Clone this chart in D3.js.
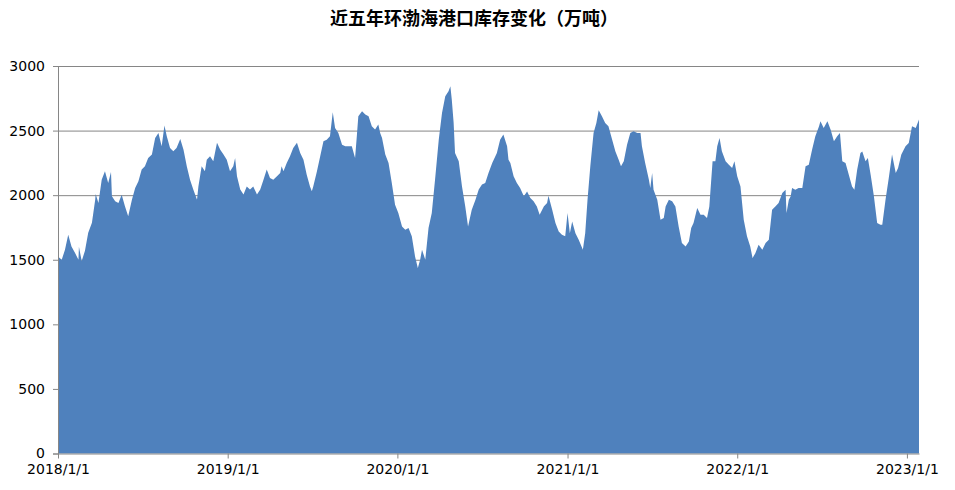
<!DOCTYPE html>
<html>
<head>
<meta charset="utf-8">
<script src="https://cdn.jsdelivr.net/npm/d3@7"></script>
<style>
  body { margin: 0; background: #fff; }
  text { font-family: "DejaVu Sans", sans-serif; }
</style>
</head>
<body>
<div id="chart"></div>
<script>
// title + data
const title = "近五年环渤海港口库存变化（万吨）";

const dates = [
  "2018-01-01","2018-01-09","2018-01-16","2018-01-23","2018-01-30","2018-02-07","2018-02-14","2018-02-15","2018-02-21","2018-02-28",
  "2018-03-07","2018-03-15","2018-03-22","2018-03-23","2018-03-29","2018-04-05","2018-04-12","2018-04-19","2018-04-25","2018-04-27",
  "2018-05-04","2018-05-11","2018-05-18","2018-05-25","2018-06-01","2018-06-09","2018-06-16","2018-06-23","2018-06-30","2018-07-07",
  "2018-07-14","2018-07-22","2018-07-29","2018-08-05","2018-08-12","2018-08-18","2018-08-23","2018-08-30","2018-09-06","2018-09-13",
  "2018-09-21","2018-09-28","2018-10-05","2018-10-12","2018-10-19","2018-10-27","2018-10-30","2018-11-06","2018-11-13","2018-11-17",
  "2018-11-24","2018-12-01","2018-12-09","2018-12-16","2018-12-23","2018-12-30",
  "2019-01-06","2019-01-13","2019-01-17","2019-01-21","2019-01-28","2019-02-04","2019-02-11","2019-02-18","2019-02-25","2019-03-05",
  "2019-03-12","2019-03-19","2019-03-26","2019-04-02","2019-04-09","2019-04-17","2019-04-24","2019-04-27","2019-05-01","2019-05-08",
  "2019-05-15","2019-05-22","2019-05-30","2019-06-06","2019-06-13","2019-06-20","2019-06-27","2019-07-01","2019-07-04","2019-07-12",
  "2019-07-19","2019-07-26","2019-08-02","2019-08-09","2019-08-15","2019-08-20","2019-08-27","2019-09-04","2019-09-11","2019-09-18",
  "2019-09-25","2019-10-02","2019-10-06","2019-10-09","2019-10-17","2019-10-24","2019-10-31","2019-11-07","2019-11-14","2019-11-21",
  "2019-11-25","2019-11-29","2019-12-06","2019-12-13","2019-12-20","2019-12-27",
  "2020-01-03","2020-01-11","2020-01-18","2020-01-25","2020-02-01","2020-02-08","2020-02-14","2020-02-19","2020-02-23","2020-03-01",
  "2020-03-08","2020-03-15","2020-03-22","2020-03-30","2020-04-06","2020-04-13","2020-04-20","2020-04-24","2020-04-27","2020-05-01",
  "2020-05-04","2020-05-12","2020-05-19","2020-05-26","2020-06-01","2020-06-09","2020-06-17","2020-06-24","2020-07-01","2020-07-08",
  "2020-07-15","2020-07-23","2020-08-02","2020-08-09","2020-08-16","2020-08-24","2020-08-27","2020-08-31","2020-09-07","2020-09-14",
  "2020-09-21","2020-09-29","2020-10-06","2020-10-13","2020-10-20","2020-10-27","2020-11-02","2020-11-11","2020-11-18","2020-11-21",
  "2020-11-29","2020-12-06","2020-12-13","2020-12-20","2020-12-27",
  "2021-01-01","2021-01-06","2021-01-11","2021-01-18","2021-01-25","2021-02-03","2021-02-08","2021-02-13","2021-02-19","2021-02-26",
  "2021-03-04","2021-03-09","2021-03-16","2021-03-23","2021-03-30","2021-04-07","2021-04-14","2021-04-21","2021-04-26","2021-05-02",
  "2021-05-09","2021-05-16","2021-05-23","2021-05-31","2021-06-07","2021-06-10","2021-06-17","2021-06-25","2021-06-28","2021-07-02",
  "2021-07-05","2021-07-13","2021-07-20","2021-07-27","2021-07-31","2021-08-07","2021-08-14","2021-08-21","2021-08-28","2021-09-04",
  "2021-09-12","2021-09-19","2021-09-24","2021-09-29","2021-10-07","2021-10-14","2021-10-21","2021-10-28","2021-11-02","2021-11-09",
  "2021-11-15","2021-11-19","2021-11-24","2021-11-29","2021-12-07","2021-12-14","2021-12-21","2021-12-26",
  "2022-01-01","2022-01-08","2022-01-15","2022-01-22","2022-01-29","2022-02-03","2022-02-09","2022-02-16","2022-02-24","2022-03-03",
  "2022-03-10","2022-03-17","2022-03-24","2022-03-31","2022-04-08","2022-04-15","2022-04-17","2022-04-22","2022-04-26","2022-04-29",
  "2022-05-06","2022-05-13","2022-05-21","2022-05-28","2022-06-04","2022-06-11","2022-06-18","2022-06-26","2022-06-29","2022-07-06",
  "2022-07-14","2022-07-21","2022-07-28","2022-08-04","2022-08-10","2022-08-15","2022-08-22","2022-08-29","2022-09-05","2022-09-10",
  "2022-09-16","2022-09-23","2022-09-27","2022-10-04","2022-10-09","2022-10-15","2022-10-22","2022-10-29","2022-11-05","2022-11-09",
  "2022-11-16","2022-11-23","2022-11-30","2022-12-08","2022-12-13","2022-12-20","2022-12-29",
  "2023-01-05","2023-01-12","2023-01-20","2023-01-27"
];

const values = [
  1525,1500,1577,1694,1603,1550,1500,1600,1490,1570,
  1709,1787,1965,2010,1940,2120,2185,2095,2180,1991,
  1952,1940,2003,1914,1836,1965,2056,2107,2198,2223,
  2288,2314,2443,2482,2378,2540,2456,2365,2340,2365,
  2434,2352,2223,2120,2043,1965,2068,2223,2185,2275,
  2301,2262,2405,2352,2314,2275,
  2185,2223,2288,2146,2043,2005,2068,2043,2068,2005,
  2043,2120,2198,2133,2120,2146,2172,2223,2185,2249,
  2301,2366,2405,2327,2275,2159,2068,2030,2068,2185,
  2301,2417,2430,2456,2642,2520,2482,2391,2378,2378,
  2378,2288,2467,2611,2650,2624,2611,2534,2508,2547,
  2482,2443,2314,2249,2095,1926,
  1862,1758,1732,1745,1681,1526,1436,1500,1578,1500,
  1746,1862,2120,2430,2637,2766,2805,2844,2740,2560,
  2327,2262,2068,1913,1758,1887,1965,2043,2082,2095,
  2172,2249,2327,2430,2469,2378,2275,2249,2146,2094,
  2055,1991,2029,1978,1952,1913,1849,1913,1939,1996,
  1887,1784,1719,1693,1681,
  1861,1706,1797,1706,1655,1577,1706,1965,2223,2482,
  2559,2657,2611,2559,2533,2430,2339,2275,2223,2262,
  2391,2482,2495,2482,2482,2378,2249,2120,2055,2172,
  2042,1965,1810,1823,1913,1965,1952,1913,1758,1629,
  1603,1642,1745,1784,1900,1849,1849,1823,1913,2262,
  2262,2378,2443,2340,2262,2236,2210,2262,
  2146,2068,1810,1681,1603,1513,1551,1616,1577,1629,
  1655,1887,1913,1939,2017,2042,1861,1965,1991,2055,
  2042,2055,2055,2223,2236,2352,2456,2533,2572,2520,
  2572,2507,2417,2456,2482,2262,2249,2158,2068,2042,
  2197,2327,2339,2262,2288,2158,1991,1784,1771,1771,
  1965,2133,2314,2172,2210,2314,2378,
  2404,2533,2520,2585
];

const yTicks = [0, 500, 1000, 1500, 2000, 2500, 3000];
const xTickDates = ["2018-01-01","2019-01-01","2020-01-01","2021-01-01","2022-01-01","2023-01-01"];
const xTickLabels = ["2018/1/1","2019/1/1","2020/1/1","2021/1/1","2022/1/1","2023/1/1"];

// layout
const W = 955, H = 490;
const margin = { top: 66, right: 36, bottom: 36.5, left: 58 };
const width = W - margin.left - margin.right;
const height = H - margin.top - margin.bottom;
const gridColor = "#868686";

const parse = d3.timeParse("%Y-%m-%d");
const data = dates.map((d, i) => ({ date: parse(d), value: values[i] }));

const svg = d3.select("#chart").append("svg")
    .attr("width", W)
    .attr("height", H);

svg.append("text")
    .attr("x", 474)
    .attr("y", 25)
    .attr("text-anchor", "middle")
    .style("font-family", "'Noto Sans CJK SC', sans-serif")
    .style("font-weight", "bold")
    .style("font-size", "18px")
    .attr("fill", "#000")
    .text(title);

const g = svg.append("g")
    .attr("transform", `translate(${margin.left},${margin.top})`);

// scales
const x = d3.scaleTime()
    .domain([parse("2018-01-01"), d3.max(data, d => d.date)])
    .range([0, width]);

const y = d3.scaleLinear()
    .domain([0, 3000])
    .range([height, 0]);

// gridlines
g.append("g")
    .attr("class", "grid")
    .call(d3.axisLeft(y).tickValues(yTicks.filter(v => v > 0)).tickSize(-width).tickFormat(""))
    .call(s => s.select(".domain").remove())
    .call(s => s.selectAll("line").attr("stroke", gridColor).attr("stroke-width", 1));

// area
const area = d3.area()
    .x(d => x(d.date))
    .y0(y(0))
    .y1(d => y(d.value));

g.append("path")
    .datum(data)
    .attr("d", area)
    .attr("fill", "#4f81bd");

// axes
const yAxis = g.append("g")
    .call(d3.axisLeft(y).tickValues(yTicks).tickFormat(d3.format("d"))
      .tickSize(5).tickPadding(8));

const xAxis = g.append("g")
    .attr("transform", `translate(0,${height})`)
    .call(d3.axisBottom(x)
      .tickValues(xTickDates.map(parse))
      .tickFormat((d, i) => xTickLabels[i])
      .tickSize(5).tickPadding(6)
      .tickSizeOuter(0));

[yAxis, xAxis].forEach(a => {
  a.select(".domain").attr("stroke", gridColor);
  a.selectAll(".tick line").attr("stroke", gridColor);
  a.selectAll("text")
    .attr("fill", "#000")
    .style("font-size", "14px");
});
</script>
</body>
</html>
